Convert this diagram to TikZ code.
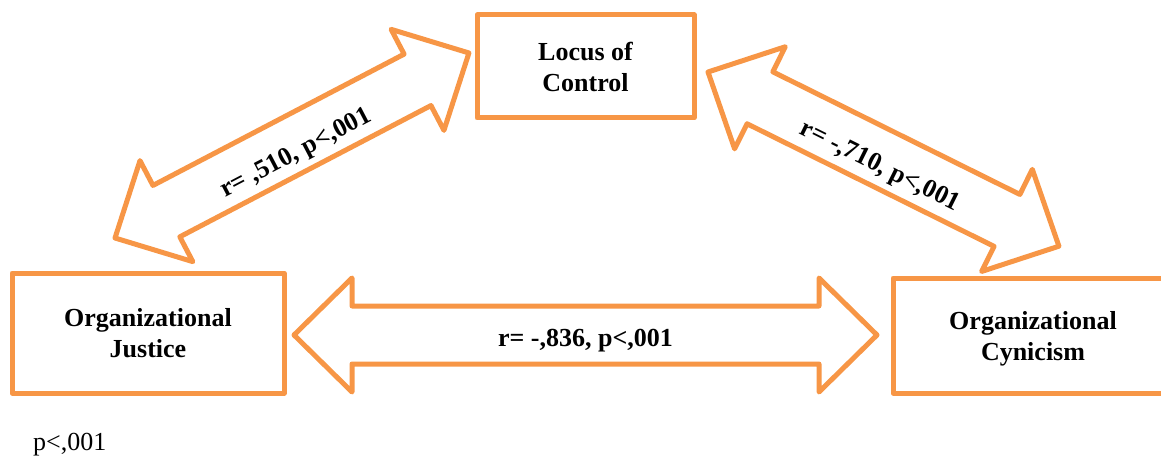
\documentclass[tikz,border=0pt]{standalone}
\usepackage{fontspec}
\setmainfont{Liberation Serif}
\definecolor{accent}{RGB}{247,150,70}
\tikzset{
  box/.style={draw=accent, line width=5pt, line join=round, inner sep=0pt,
    align=center, font=\fontsize{26}{31}\selectfont\bfseries},
  blockarrow/.style={draw=accent, line width=5pt, line join=round, fill=white},
  arrowlabel/.style={inner sep=0pt, anchor=base, font=\fontsize{26}{31}\selectfont\bfseries},
  pics/dblarrow/.style={code={
    \draw[blockarrow] (0,0) -- (58,57) -- (58,29) -- ({#1-58},29) -- ({#1-58},57)
      -- (#1,0) -- ({#1-58},-57) -- ({#1-58},-29) -- (58,-29) -- (58,-57) -- cycle;
  }}
}
\begin{document}
\begin{tikzpicture}[x=1pt,y=-1pt]
\useasboundingbox (0,0) rectangle (1161,457);
% boxes
\node[box, minimum width=217pt, minimum height=103pt] (loc) at (585.5,66.5) {Locus of\\Control};
\node[box, minimum width=272pt, minimum height=120pt] (oj) at (148,333) {Organizational\\Justice};
\node[box, minimum width=280pt, minimum height=115pt, text depth=0pt] (oc) at (1033,335.5) {Organizational\\Cynicism};
% arrow ends
\coordinate (ojloc) at (115,238);
\coordinate (lococ) at (708,72);
\coordinate (ojoc) at (294,335);
% block arrows
\pic[rotate=27.6] at (ojloc) {dblarrow=399.4};
\pic[rotate=-26.4] at (lococ) {dblarrow=391.8};
\pic at (ojoc) {dblarrow=583};
% labels
\node[arrowlabel, rotate=27.6] (l1) at (299,159) {r= ,510, p<,001};
\node[arrowlabel, rotate=-26.4] (l2) at (877,172.4) {r= -,710, p<,001};
\node[arrowlabel] (l3) at (585.5,346) {r= -,836, p<,001};
% note
\node[inner sep=0pt, anchor=base west, font=\fontsize{26}{31}\selectfont] (note) at (33,450) {p<,001};
\end{tikzpicture}
\end{document}
